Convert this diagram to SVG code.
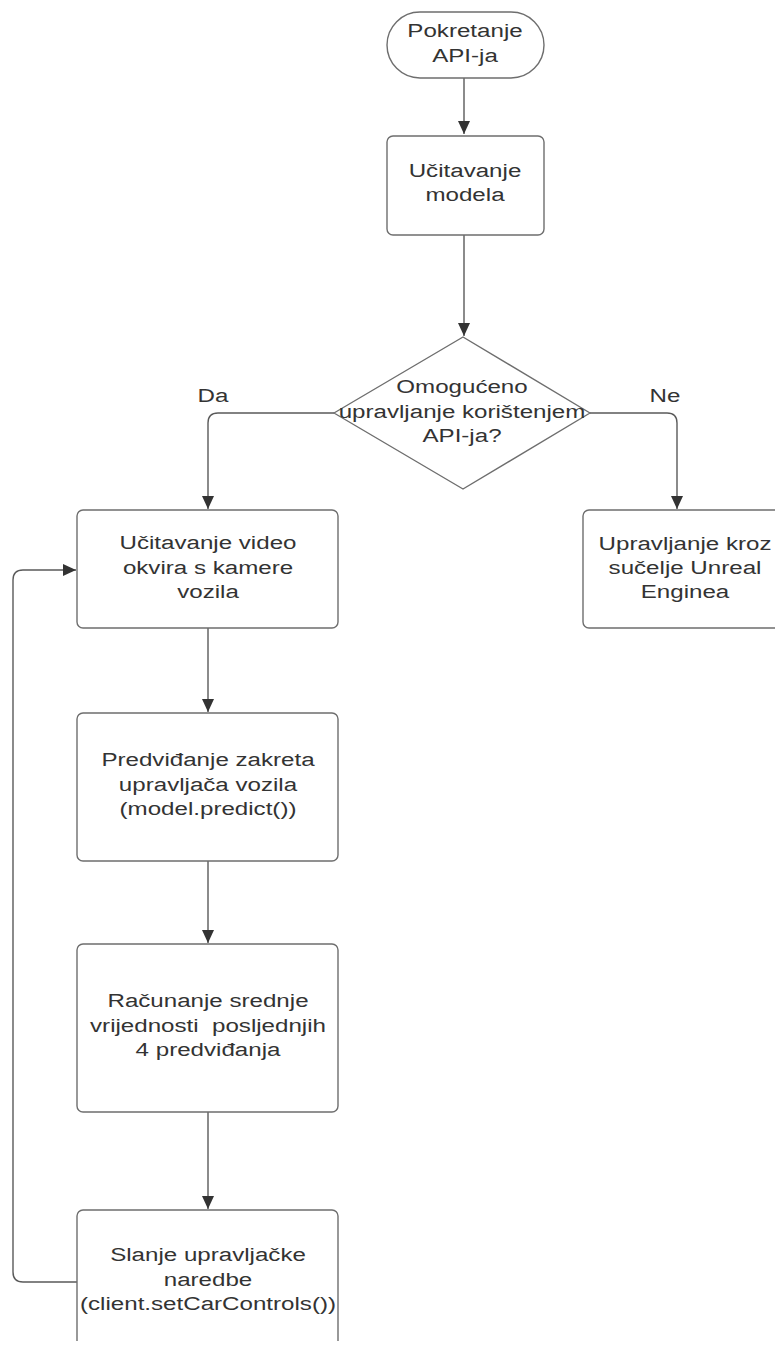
<svg xmlns="http://www.w3.org/2000/svg" width="775" height="1349" viewBox="0 0 775 1349">
<style>
.shape{fill:#ffffff;stroke:#6e6e6e;stroke-width:1.4}
.conn{fill:none;stroke:#5a5a5a;stroke-width:1.4}
.t{font-family:"Liberation Sans",Arial,sans-serif;font-size:19px;fill:#333333;text-anchor:middle}
</style>
<defs>
<marker id="arr" markerUnits="userSpaceOnUse" markerWidth="14" markerHeight="12" refX="13" refY="6" orient="auto">
<path d="M0,0 L13,6 L0,12 z" fill="#333333"/>
</marker>
<clipPath id="pageclip"><rect x="0" y="0" width="775" height="1341"/></clipPath>
</defs>
<rect x="0" y="0" width="775" height="1349" fill="#ffffff"/>
<g id="connectors">
<path class="conn" d="M464,78 V134" marker-end="url(#arr)"/>
<path class="conn" d="M464,235 V336" marker-end="url(#arr)"/>
<path class="conn" d="M334,413 H218 Q208,413 208,423 V509" marker-end="url(#arr)"/>
<path class="conn" d="M590,413 H667 Q677,413 677,423 V509" marker-end="url(#arr)"/>
<path class="conn" d="M208,628 V712" marker-end="url(#arr)"/>
<path class="conn" d="M208,861 V943" marker-end="url(#arr)"/>
<path class="conn" d="M208,1112 V1209" marker-end="url(#arr)"/>
<path class="conn" d="M77,1282 H23 Q13,1282 13,1272 V580 Q13,570 23,570 H76" marker-end="url(#arr)"/>
<g id="label-da"><text class="t" transform="translate(213 0) scale(1.27 1)" x="0" y="402">Da</text></g>
<g id="label-ne"><text class="t" transform="translate(665 0) scale(1.27 1)" x="0" y="402">Ne</text></g>
</g>
<g id="start">
<rect class="shape" x="387" y="12" width="157" height="66" rx="33"/>
<text class="t" transform="translate(465 0) scale(1.27 1)"><tspan x="0" y="37">Pokretanje</tspan><tspan x="0" y="62">API-ja</tspan></text>
</g>
<g id="load-model">
<rect class="shape" x="387" y="136" width="157" height="99" rx="6"/>
<text class="t" transform="translate(465 0) scale(1.27 1)"><tspan x="0" y="177">Učitavanje</tspan><tspan x="0" y="201">modela</tspan></text>
</g>
<g id="decision">
<path class="shape" d="M463,337 L590,413 L463,489 L334,413 Z" stroke-linejoin="round"/>
<text class="t" transform="translate(462 0) scale(1.27 1)"><tspan x="0" y="393">Omogućeno</tspan><tspan x="0" y="418">upravljanje korištenjem</tspan><tspan x="0" y="442">API-ja?</tspan></text>
</g>
<g id="load-frame">
<rect class="shape" x="77" y="510" width="261" height="118" rx="6"/>
<text class="t" transform="translate(208 0) scale(1.27 1)"><tspan x="0" y="549">Učitavanje video</tspan><tspan x="0" y="574">okvira s kamere</tspan><tspan x="0" y="598">vozila</tspan></text>
</g>
<g id="unreal">
<rect class="shape" x="583" y="510" width="230" height="118" rx="6"/>
<text class="t" transform="translate(685 0) scale(1.27 1)"><tspan x="0" y="550">Upravljanje kroz</tspan><tspan x="0" y="574">sučelje Unreal</tspan><tspan x="0" y="598">Enginea</tspan></text>
</g>
<g id="predict">
<rect class="shape" x="77" y="713" width="261" height="148" rx="6"/>
<text class="t" transform="translate(208 0) scale(1.27 1)"><tspan x="0" y="766">Predviđanje zakreta</tspan><tspan x="0" y="791">upravljača vozila</tspan><tspan x="0" y="815">(model.predict())</tspan></text>
</g>
<g id="mean">
<rect class="shape" x="77" y="944" width="261" height="168" rx="6"/>
<text class="t" transform="translate(208 0) scale(1.27 1)"><tspan x="0" y="1007">Računanje srednje</tspan><tspan x="0" y="1032">vrijednosti&#160; posljednjih</tspan><tspan x="0" y="1056">4 predviđanja</tspan></text>
</g>
<g id="send">
<rect class="shape" x="77" y="1210" width="261" height="200" rx="6" clip-path="url(#pageclip)"/>
<text class="t" transform="translate(208 0) scale(1.27 1)"><tspan x="0" y="1261">Slanje upravljačke</tspan><tspan x="0" y="1286">naredbe</tspan><tspan x="0" y="1310">(client.setCarControls())</tspan></text>
</g>
</svg>
